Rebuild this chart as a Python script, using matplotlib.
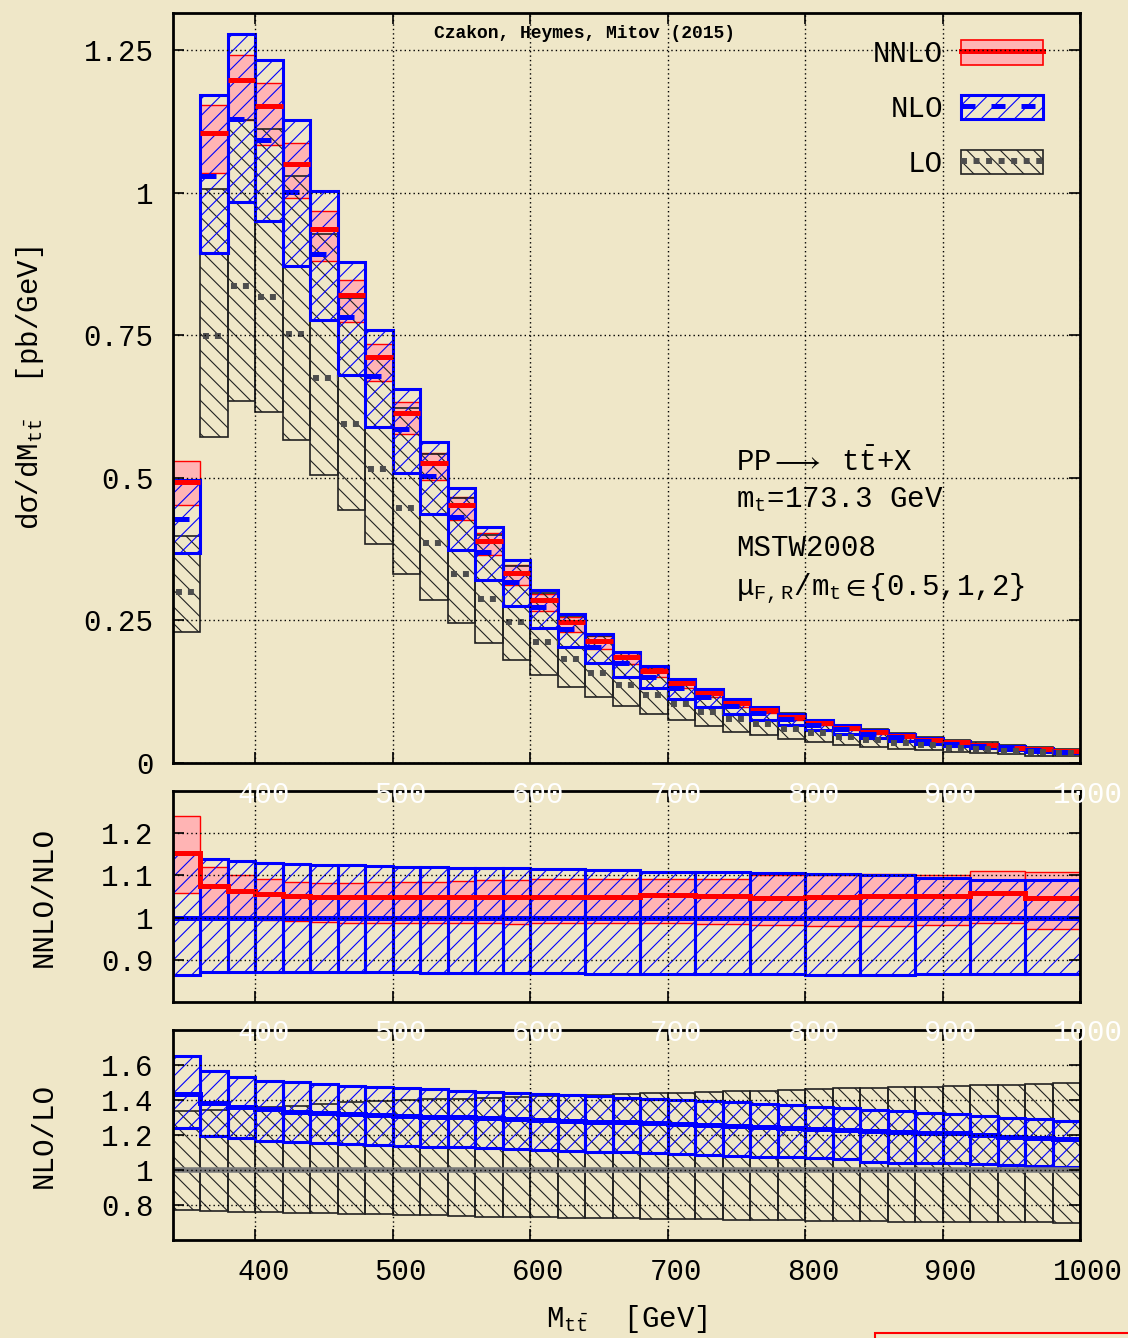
import numpy as np
import matplotlib
matplotlib.use("Agg")
import matplotlib.pyplot as plt
import matplotlib.transforms as mtransforms
from matplotlib.patches import Patch, Rectangle
from matplotlib.lines import Line2D

plt.rcParams['font.family'] = ['Liberation Mono', 'DejaVu Sans Mono', 'DejaVu Sans']
plt.rcParams['mathtext.fontset'] = 'custom'
plt.rcParams['mathtext.rm'] = 'Liberation Mono'
plt.rcParams['mathtext.it'] = 'Liberation Mono'
plt.rcParams['mathtext.bf'] = 'Liberation Mono:bold'
plt.rcParams['mathtext.fallback'] = 'stix'
plt.rcParams['hatch.linewidth'] = 0.8

# ---- data -------------------------------------------------------------
# 20 GeV bins (top panel and NLO/LO panel)
edges_fine = [340, 360, 380, 400, 420, 440, 460, 480, 500, 520, 540, 560, 580,
              600, 620, 640, 660, 680, 700, 720, 740, 760, 780, 800, 820, 840,
              860, 880, 900, 920, 940, 960, 980, 1000]
# NNLO/NLO panel: 20 GeV up to 600, then 40 GeV
edges_coarse = [340, 360, 380, 400, 420, 440, 460, 480, 500, 520, 540, 560, 580,
                600, 640, 680, 720, 760, 800, 840, 880, 920, 960, 1000]

# dsigma/dM [pb/GeV]
nnlo_c = [0.493, 1.105, 1.198, 1.152, 1.051, 0.936, 0.820, 0.712, 0.613, 0.526, 0.453,
          0.389, 0.333, 0.286, 0.247, 0.214, 0.185, 0.161, 0.140, 0.123, 0.106, 0.093,
          0.081, 0.071, 0.062, 0.054, 0.047, 0.041, 0.036, 0.031, 0.027, 0.024, 0.021]
nnlo_lo = [0.452, 1.034, 1.128, 1.084, 0.990, 0.881, 0.773, 0.669, 0.576, 0.496, 0.426,
           0.364, 0.312, 0.267, 0.230, 0.200, 0.173, 0.151, 0.131, 0.115, 0.099, 0.087,
           0.076, 0.066, 0.058, 0.050, 0.044, 0.038, 0.034, 0.029, 0.025, 0.022, 0.019]
nnlo_hi = [0.530, 1.153, 1.242, 1.193, 1.087, 0.967, 0.846, 0.735, 0.633, 0.544, 0.467,
           0.404, 0.347, 0.297, 0.256, 0.222, 0.192, 0.167, 0.145, 0.127, 0.110, 0.096,
           0.084, 0.074, 0.065, 0.056, 0.049, 0.043, 0.038, 0.032, 0.028, 0.025, 0.022]
nlo_c = [0.428, 1.029, 1.130, 1.093, 1.001, 0.892, 0.782, 0.678, 0.585, 0.503, 0.432,
         0.370, 0.318, 0.273, 0.235, 0.203, 0.175, 0.151, 0.131, 0.115, 0.100, 0.088,
         0.077, 0.067, 0.059, 0.051, 0.045, 0.039, 0.034, 0.030, 0.026, 0.023, 0.020]
nlo_lo = [0.368, 0.894, 0.983, 0.951, 0.872, 0.777, 0.680, 0.589, 0.509, 0.436, 0.374,
          0.321, 0.276, 0.236, 0.203, 0.176, 0.151, 0.131, 0.113, 0.099, 0.086, 0.076,
          0.066, 0.058, 0.051, 0.044, 0.039, 0.034, 0.029, 0.026, 0.022, 0.020, 0.017]
nlo_hi = [0.497, 1.172, 1.279, 1.233, 1.128, 1.003, 0.878, 0.760, 0.655, 0.563, 0.482,
          0.414, 0.356, 0.304, 0.262, 0.226, 0.195, 0.170, 0.148, 0.130, 0.112, 0.098,
          0.086, 0.075, 0.066, 0.057, 0.050, 0.044, 0.038, 0.033, 0.029, 0.026, 0.022]
lo_c = [0.299, 0.749, 0.837, 0.817, 0.753, 0.675, 0.594, 0.516, 0.447, 0.386, 0.332,
        0.287, 0.247, 0.213, 0.183, 0.158, 0.137, 0.119, 0.103, 0.090, 0.078, 0.068,
        0.060, 0.052, 0.046, 0.040, 0.035, 0.031, 0.027, 0.024, 0.021, 0.019, 0.017]
lo_lo = [0.230, 0.572, 0.635, 0.616, 0.566, 0.505, 0.443, 0.384, 0.331, 0.286, 0.245,
         0.210, 0.180, 0.154, 0.134, 0.116, 0.100, 0.086, 0.075, 0.065, 0.055, 0.049,
         0.042, 0.037, 0.032, 0.028, 0.025, 0.022, 0.019, 0.017, 0.015, 0.013, 0.012]
lo_hi = [0.398, 1.006, 1.127, 1.111, 1.030, 0.927, 0.815, 0.710, 0.623, 0.541, 0.464,
         0.400, 0.345, 0.298, 0.257, 0.222, 0.193, 0.168, 0.147, 0.129, 0.112, 0.098,
         0.087, 0.076, 0.067, 0.059, 0.052, 0.046, 0.040, 0.036, 0.031, 0.028, 0.025]

# NNLO/NLO ratio (coarse bins)
r_nnlo_c = [1.153, 1.076, 1.062, 1.056, 1.052, 1.050, 1.050, 1.049, 1.048, 1.049, 1.050, 1.050,
            1.050, 1.050, 1.050, 1.054, 1.051, 1.047, 1.050, 1.052, 1.052, 1.058, 1.047]
r_nnlo_lo = [1.058, 0.998, 0.999, 0.995, 0.991, 0.989, 0.988, 0.988, 0.987, 0.987, 0.987, 0.987,
             0.986, 0.987, 0.987, 0.987, 0.985, 0.982, 0.980, 0.980, 0.982, 0.987, 0.973]
r_nnlo_hi = [1.241, 1.121, 1.100, 1.091, 1.085, 1.083, 1.083, 1.084, 1.084, 1.085, 1.086, 1.088,
             1.090, 1.091, 1.091, 1.092, 1.092, 1.100, 1.101, 1.104, 1.101, 1.111, 1.108]
r_nlo_c = [1.0, 1.0, 1.0, 1.0, 1.0, 1.0, 1.0, 1.0, 1.0, 1.0, 1.0, 1.0,
           1.0, 1.0, 1.0, 1.0, 1.0, 1.0, 1.0, 1.0, 1.0, 1.0, 1.0]
r_nlo_lo = [0.864, 0.871, 0.872, 0.872, 0.872, 0.871, 0.871, 0.870, 0.870, 0.869, 0.869, 0.869,
            0.868, 0.868, 0.867, 0.866, 0.866, 0.866, 0.865, 0.865, 0.866, 0.866, 0.866]
r_nlo_hi = [1.154, 1.139, 1.133, 1.130, 1.127, 1.125, 1.124, 1.122, 1.121, 1.120, 1.118, 1.117,
            1.117, 1.116, 1.113, 1.109, 1.107, 1.105, 1.103, 1.102, 1.093, 1.089, 1.088]

# NLO/LO ratio (fine bins)
q_lo_c = [1.0, 1.0, 1.0, 1.0, 1.0, 1.0, 1.0, 1.0, 1.0, 1.0, 1.0, 1.0, 1.0, 1.0, 1.0, 1.0, 1.0,
          1.0, 1.0, 1.0, 1.0, 1.0, 1.0, 1.0, 1.0, 1.0, 1.0, 1.0, 1.0, 1.0, 1.0, 1.0, 1.0]
q_lo_lo = [0.771, 0.766, 0.760, 0.758, 0.756, 0.752, 0.750, 0.748, 0.743, 0.741, 0.738,
           0.733, 0.733, 0.730, 0.728, 0.728, 0.724, 0.720, 0.718, 0.718, 0.714, 0.714,
           0.712, 0.709, 0.707, 0.707, 0.705, 0.705, 0.703, 0.703, 0.701, 0.701, 0.699]
q_lo_hi = [1.339, 1.345, 1.352, 1.362, 1.368, 1.376, 1.387, 1.394, 1.400, 1.404, 1.408,
           1.411, 1.415, 1.423, 1.427, 1.429, 1.434, 1.438, 1.442, 1.448, 1.451, 1.453,
           1.457, 1.463, 1.467, 1.470, 1.474, 1.476, 1.480, 1.486, 1.488, 1.491, 1.495]
q_nlo_c = [1.434, 1.381, 1.358, 1.347, 1.333, 1.324, 1.318, 1.314, 1.309, 1.305, 1.301,
           1.295, 1.291, 1.286, 1.282, 1.276, 1.274, 1.270, 1.261, 1.257, 1.251, 1.244,
           1.238, 1.232, 1.229, 1.223, 1.219, 1.213, 1.210, 1.200, 1.190, 1.185, 1.177]
q_nlo_lo = [1.238, 1.196, 1.181, 1.168, 1.162, 1.156, 1.149, 1.143, 1.137, 1.133, 1.130,
            1.124, 1.118, 1.114, 1.110, 1.105, 1.105, 1.095, 1.091, 1.086, 1.080, 1.076,
            1.072, 1.070, 1.061, 1.048, 1.042, 1.038, 1.038, 1.034, 1.029, 1.025, 1.019]
q_nlo_hi = [1.653, 1.566, 1.530, 1.510, 1.501, 1.490, 1.480, 1.472, 1.467, 1.461, 1.453,
            1.448, 1.442, 1.434, 1.429, 1.423, 1.410, 1.406, 1.400, 1.396, 1.389, 1.377,
            1.370, 1.362, 1.352, 1.343, 1.337, 1.328, 1.318, 1.309, 1.300, 1.291, 1.282]

x_ticks = [400, 500, 600, 700, 800, 900, 1000]
x_ticklabels = ['400', '500', '600', '700', '800', '900', '1000']
y1_ticks = [0, 0.25, 0.5, 0.75, 1, 1.25]
y1_ticklabels = ['0', '0.25', '0.5', '0.75', '1', '1.25']
y2_ticks = [0.9, 1, 1.1, 1.2]
y2_ticklabels = ['0.9', '1', '1.1', '1.2']
y3_ticks = [0.8, 1, 1.2, 1.4, 1.6]
y3_ticklabels = ['0.8', '1', '1.2', '1.4', '1.6']

# ---- style -------------------------------------------------------------
BG = '#efe7c8'
PINK = '#ffb4b4'
RED = '#ff0000'
BLUE = '#0000ff'
DARK = '#222222'
GREY_DOT = '#4d4d4d'
FS = 21

W, H = 1128, 1338
fig = plt.figure(figsize=(W / 100, H / 100), dpi=100)
fig.patch.set_facecolor(BG)

ax1 = fig.add_axes([173 / W, 1 - 763 / H, 907 / W, 750 / H])
ax2 = fig.add_axes([173 / W, 1 - 1002 / H, 907 / W, 211 / H])
ax3 = fig.add_axes([173 / W, 1 - 1240 / H, 907 / W, 210 / H])


def bands(ax, edges, lo, hi, **kw):
    e = np.array(edges, dtype=float)
    lo = np.array(lo)
    hi = np.array(hi)
    ax.bar(e[:-1], hi - lo, bottom=lo, width=np.diff(e), align='edge', **kw)


def style(ax, yticks, ylabels):
    ax.set_facecolor(BG)
    ax.set_xlim(340, 1000)
    ax.set_xticks(x_ticks)
    ax.set_yticks(yticks, ylabels)
    ax.tick_params(direction='in', length=8, width=1.2, top=True, right=True,
                   labelsize=FS, pad=14)
    ax.grid(True, color='black', lw=1.0, ls=(0, (1, 2.2)))
    ax.set_axisbelow(False)
    ax.xaxis.set_zorder(8)
    ax.yaxis.set_zorder(8)
    for sp in ax.spines.values():
        sp.set_linewidth(2.0)
        sp.set_zorder(9)


# ---- top panel ---------------------------------------------------------
ef = np.array(edges_fine, dtype=float)
bands(ax1, edges_fine, nnlo_lo, nnlo_hi, facecolor=PINK, edgecolor=RED, lw=1.0, zorder=2)
bands(ax1, edges_fine, lo_lo, lo_hi, facecolor='none', edgecolor=DARK, hatch='\\\\', lw=1.2, zorder=3)
bands(ax1, edges_fine, nlo_lo, nlo_hi, facecolor='none', edgecolor=BLUE, hatch='//', lw=2.2, zorder=4)
ax1.hlines(nnlo_c, ef[:-1], ef[1:], colors=RED, lw=3.6, zorder=5)
ax1.hlines(nlo_c, ef[:-1], ef[1:], colors=BLUE, lw=3.6, linestyles=(0, (3.2, 2.4)), zorder=6)
ax1.hlines(lo_c, ef[:-1], ef[1:], colors=GREY_DOT, lw=4.3, linestyles=(1.5, (1, 1)), zorder=6)
ax1.set_ylim(0, 1.315)
style(ax1, y1_ticks, y1_ticklabels)
ax1.tick_params(labelbottom=False)
ax1.set_ylabel('dσ/dM$_{\\mathrm{t\\bar{t}}}$  [pb/GeV]', fontsize=FS)
ax1.yaxis.set_label_coords(-0.140, 0.5)

ax1.text(0.454, 0.973, 'Czakon, Heymes, Mitov (2015)', transform=ax1.transAxes,
         ha='center', va='center', fontsize=13, fontweight='bold')
info = ['PP$\\longrightarrow$ t$\\bar{\\mathrm{t}}$+X',
        'm$_{\\mathrm{t}}$=173.3 GeV',
        'MSTW2008',
        'μ$_{\\mathrm{F,R}}$/m$_{\\mathrm{t}}$$\\in${0.5,1,2}']
for s, yy in zip(info, [0.401, 0.351, 0.287, 0.231]):
    ax1.text(0.621, yy, s, transform=ax1.transAxes, ha='left', va='center', fontsize=FS)

h_nnlo = (Patch(facecolor=PINK, edgecolor=RED, lw=1.2),
          Line2D([], [], color=RED, lw=3.6))
h_nlo = (Patch(facecolor='none', edgecolor=BLUE, hatch='//', lw=2.2),
         Line2D([], [], color=BLUE, lw=3.6, ls=(0, (2.8, 3.2))))
h_lo = (Patch(facecolor='none', edgecolor=DARK, hatch='\\\\', lw=1.2),
        Line2D([], [], color=GREY_DOT, lw=4.3, ls=(0, (1, 1.1))))
ax1.legend([h_nnlo, h_nlo, h_lo], ['NNLO', 'NLO', 'LO'], loc='upper right',
           bbox_to_anchor=(0.959, 0.964), frameon=False, markerfirst=False,
           fontsize=FS, handlelength=2.8, handleheight=0.92, labelspacing=0.91,
           handletextpad=0.62, borderpad=0, borderaxespad=0)

# ---- NNLO/NLO panel ----------------------------------------------------
bands(ax2, edges_coarse, r_nnlo_lo, r_nnlo_hi, facecolor=PINK, edgecolor=RED, lw=1.0, zorder=2)
bands(ax2, edges_coarse, r_nlo_lo, r_nlo_hi, facecolor='none', edgecolor=BLUE, hatch='//', lw=2.2, zorder=4)
ax2.stairs(r_nnlo_c, edges_coarse, baseline=None, color=RED, lw=3.6, zorder=5)
ax2.stairs(r_nlo_c, edges_coarse, baseline=None, color=BLUE, lw=3.6, zorder=6)
ax2.set_ylim(0.8, 1.3)
style(ax2, y2_ticks, y2_ticklabels)
ax2.tick_params(labelbottom=False)
ax2.set_ylabel('NNLO/NLO', fontsize=FS)
ax2.yaxis.set_label_coords(-0.127, 0.5)

# ---- NLO/LO panel ------------------------------------------------------
bands(ax3, edges_fine, q_lo_lo, q_lo_hi, facecolor='none', edgecolor=DARK, hatch='\\\\', lw=1.2, zorder=3)
bands(ax3, edges_fine, q_nlo_lo, q_nlo_hi, facecolor='none', edgecolor=BLUE, hatch='//', lw=2.2, zorder=4)
ax3.stairs(q_lo_c, edges_fine, baseline=None, color='#7a7a7a', lw=4.0, zorder=5)
ax3.stairs(q_nlo_c, edges_fine, baseline=None, color=BLUE, lw=3.6, zorder=6)
ax3.set_ylim(0.6, 1.8)
style(ax3, y3_ticks, y3_ticklabels)
ax3.set_xticks(x_ticks, x_ticklabels)
ax3.tick_params(axis='x', pad=13)
ax3.set_ylabel('NLO/LO', fontsize=FS)
ax3.yaxis.set_label_coords(-0.127, 0.5)
ax3.set_xlabel('M$_{\\mathrm{t\\bar{t}}}$  [GeV]', fontsize=FS)
ax3.xaxis.set_label_coords(0.5, -0.30)

shift = mtransforms.ScaledTranslation(8 / 100, 0, fig.dpi_scale_trans)
for lbl in ax3.get_xticklabels():
    lbl.set_transform(lbl.get_transform() + shift)

# faint white tick labels at the top of the ratio panels
for ax, dy in ((ax2, -4), (ax3, -3)):
    tr = (mtransforms.blended_transform_factory(ax.transData, ax.transAxes)
          + mtransforms.ScaledTranslation(8 / 100, dy / 100, fig.dpi_scale_trans))
    for v, s in zip(x_ticks, x_ticklabels):
        ax.text(v, 1.0, s, transform=tr, color='white', ha='center', va='center',
                fontsize=FS, clip_on=False, zorder=20)

fig.add_artist(Rectangle((875 / W, -0.01), 0.3, 0.01 + 5 / H, transform=fig.transFigure,
                         facecolor='none', edgecolor=RED, lw=1.5))

fig.savefig('out.png', dpi=100, facecolor=BG)
